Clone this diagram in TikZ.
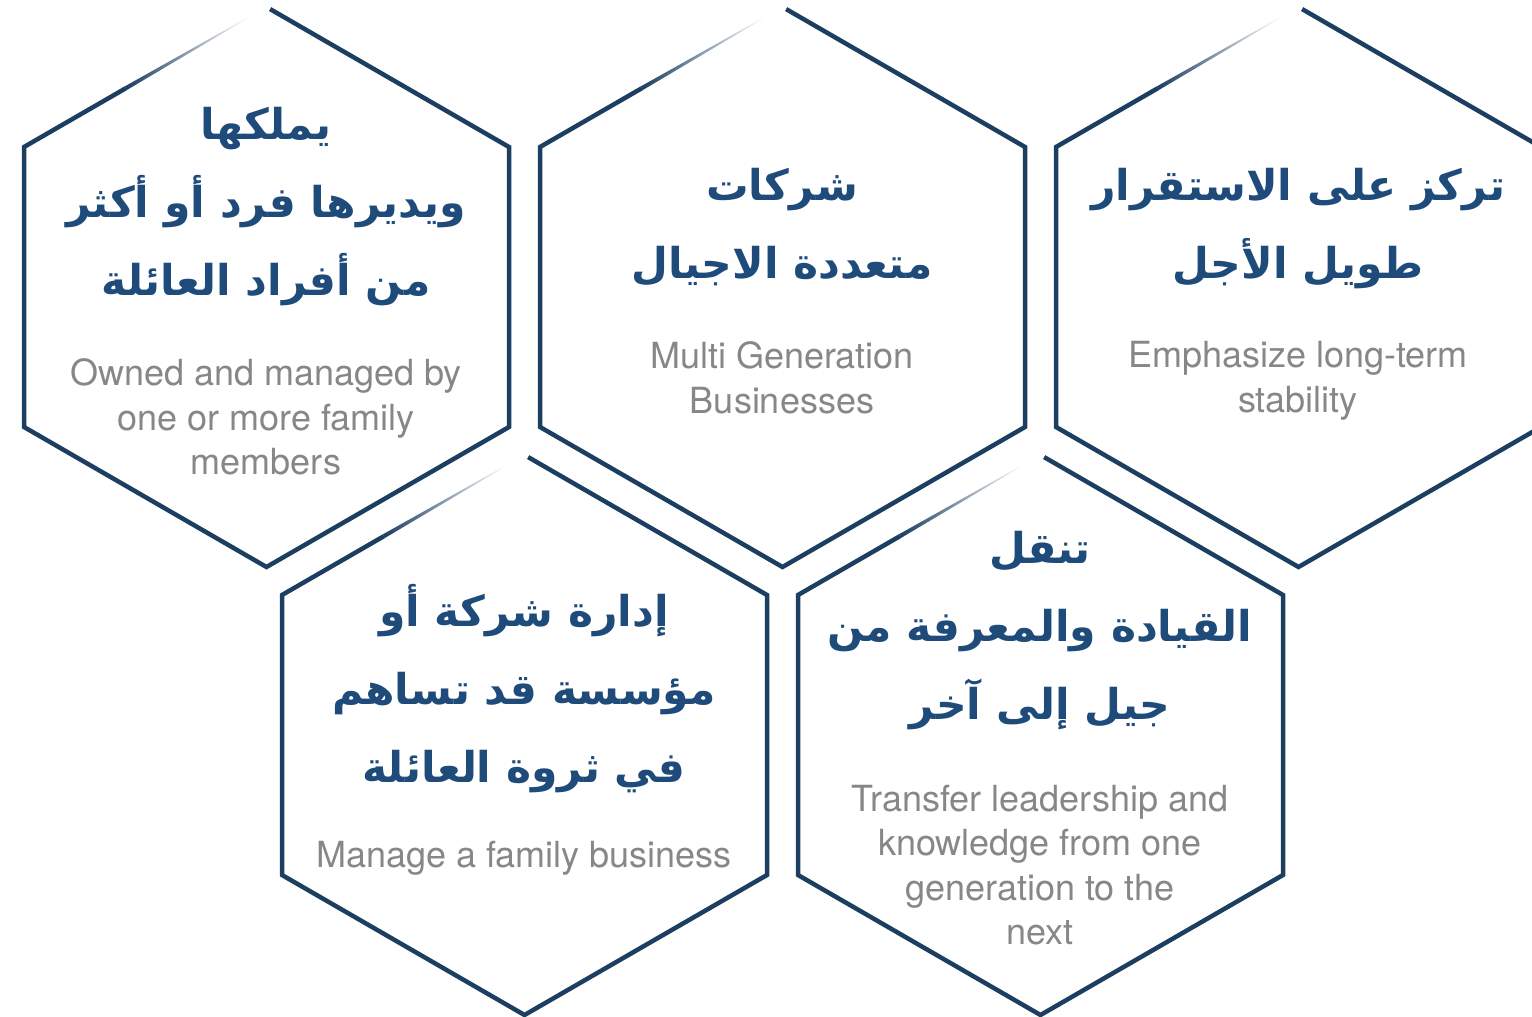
\documentclass[tikz,border=0pt]{standalone}
\usepackage{fontspec}
\setmainfont{TeX Gyre Heros}
\newfontfamily\arabicfont[Script=Arabic]{DejaVu Sans}
\TeXXeTstate=1
\usetikzlibrary{calc}
\definecolor{hexline}{RGB}{27,62,97}
\definecolor{artext}{RGB}{31,75,122}
\definecolor{entext}{RGB}{135,135,135}
\tikzset{
  hexedge/.style={draw=hexline, line width=4.5pt, line join=miter, line cap=butt},
  hexfade/.style={left color=hexline, middle color=hexline!75!white, right color=white, draw=none},
  artxt/.style={font=\arabicfont\bfseries\fontsize{42.5}{78}\selectfont, text=artext, align=center, inner sep=0pt},
  entxt/.style={font=\fontsize{36}{44.5}\selectfont, text=entext, align=center, inner sep=0pt}
}
\newcommand\hexcell[3]{%
  \coordinate (#1T) at (#2,{#3-280});
  \coordinate (#1UR) at ({#2+242.5},{#3-140});
  \coordinate (#1LR) at ({#2+242.5},{#3+140});
  \coordinate (#1B) at (#2,{#3+280});
  \coordinate (#1LL) at ({#2-242.5},{#3+140});
  \coordinate (#1UL) at ({#2-242.5},{#3-140});
  \draw[hexedge] ($(#1T)!0.015!(#1UR)$) -- (#1UR) -- (#1LR) -- (#1B) -- (#1LL) -- (#1UL) -- ($(#1UL)!0.42!(#1T)$);
  \shade[hexfade] ($(#1UL)!0.42!(#1T)+(1.05,1.82)$) -- ($(#1UL)!0.42!(#1T)-(1.05,1.82)$)
     -- ($(#1UL)!0.93!(#1T)-(0.2,0.35)$) -- ($(#1UL)!0.93!(#1T)+(0.2,0.35)$) -- cycle;
}
\begin{document}
\begin{tikzpicture}[x=1pt,y=-1pt]
\useasboundingbox (0,0) rectangle (1532,1017);
\hexcell{h1}{266.5}{287}
\hexcell{h2}{782.5}{287}
\hexcell{h3}{1298.5}{287}
\hexcell{h4}{524.5}{735}
\hexcell{h5}{1040.5}{735}

\node[artxt] (a1) at (266,207) {\beginR يملكها\endR\\\beginR ويديرها فرد أو أكثر\endR\\\beginR من أفراد العائلة\endR};
\node[entxt] (e1) at (266,417) {Owned and managed by\\one or more family\\members};

\node[artxt] (a2) at (782,227) {\beginR شركات\endR\\\beginR متعددة الاجيال\endR};
\node[entxt] (e2) at (782,378) {Multi Generation\\Businesses};

\node[artxt] (a3) at (1298,229) {\beginR تركز على الاستقرار\endR\\\beginR طويل الأجل\endR};
\node[entxt] (e3) at (1298,381) {Emphasize long-term\\stability};

\node[artxt] (a4) at (524,689) {\beginR إدارة شركة أو\endR\\\beginR مؤسسة قد تساهم\endR\\\beginR في ثروة العائلة\endR};
\node[entxt] (e4) at (524,858) {Manage a family business};

\node[artxt] (a5) at (1040,631) {\beginR تنقل\endR\\\beginR القيادة والمعرفة من\endR\\\beginR جيل إلى آخر\endR};
\node[entxt] (e5) at (1040,865) {Transfer leadership and\\knowledge from one\\generation to the\\next};
\end{tikzpicture}
\end{document}
